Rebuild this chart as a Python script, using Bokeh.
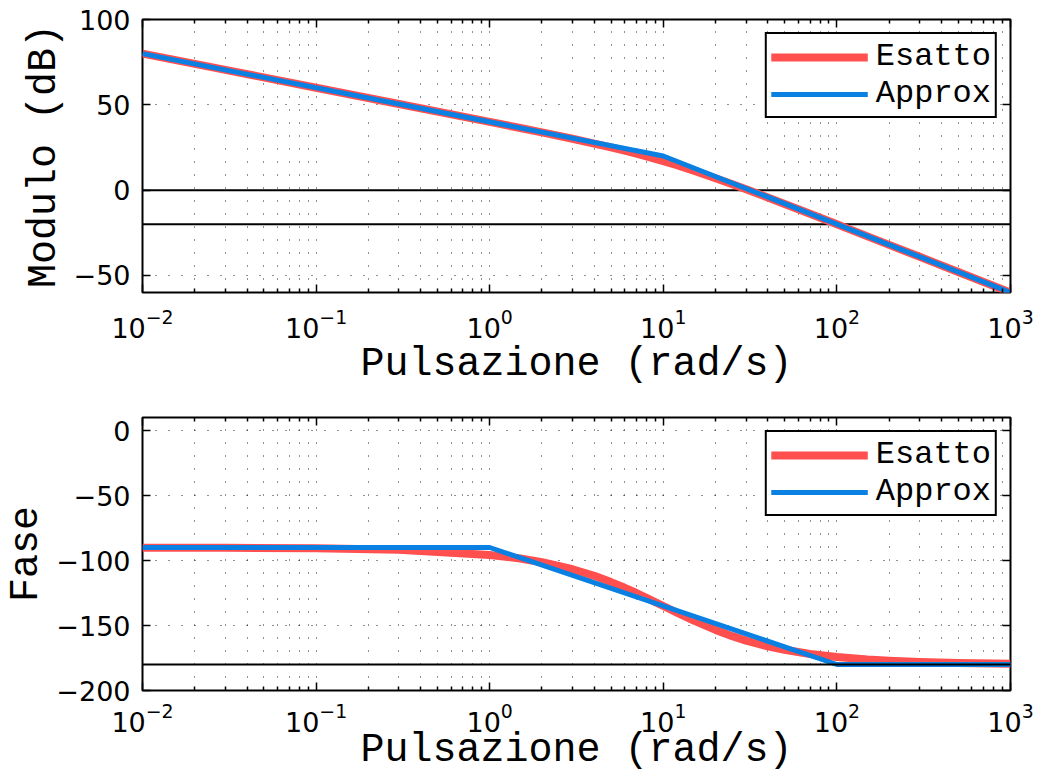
from bokeh.plotting import figure
from bokeh.models import (LogAxis, LinearAxis, FixedTicker, CustomJSTickFormatter,
                          Legend, LegendItem, Span, Range1d)
from bokeh.layouts import column
from bokeh.embed import file_html
from bokeh.resources import INLINE

# ---------------- data ----------------
w_exact = [0.01, 0.03, 0.1, 0.3, 1, 1.5, 2, 3, 4, 5, 6, 7, 8, 10, 12, 15, 20, 25,
           30, 40, 50, 70, 100, 150, 200, 300, 500, 1000]
mag_exact = [80.0, 70.5, 60.0, 50.5, 40.0, 36.4, 33.8, 30.1, 27.3, 25.1, 23.1, 21.4,
             19.8, 17.0, 14.6, 11.4, 7.0, 3.4, 0.5, -4.3, -8.1, -13.9, -20.0, -27.1,
             -32.1, -39.1, -48.0, -60.0]
phase_exact = [-90.1, -90.2, -90.6, -91.7, -95.7, -98.5, -101.3, -106.7, -111.8,
               -116.6, -121.0, -125.0, -128.7, -135.0, -140.2, -146.3, -153.4, -158.2,
               -161.6, -166.0, -168.7, -171.9, -174.3, -176.2, -177.1, -178.1, -178.9,
               -179.4]

w_mag_approx = [0.01, 10, 1000]
mag_approx = [80, 20, -60]

w_ph_approx = [0.01, 1, 100, 1000]
ph_approx = [-90, -90, -180, -180]

x_major = [1e-2, 1e-1, 1e0, 1e1, 1e2, 1e3]
x_minor = [m * d for d in x_major[:-1] for m in range(2, 10)]
mag_ticks = [-50, 0, 50, 100]
ph_ticks = [-200, -150, -100, -50, 0]
mag_range = (-60, 100)
ph_range = (-200, 10)
mag_ref_lines = [0, -20]
ph_ref_lines = [-180]

legend_labels = ["Esatto", "Approx"]
x_label = "Pulsazione (rad/s)"
mag_label = "Modulo (dB)"
ph_label = "Fase"

RED = "#ff4f4f"
BLUE = "#0a80e2"
MONO = "Liberation Mono"
SANS = "DejaVu Sans"

WIDTH = 1037
FRAME_H = 273


def make_fig(height, top, yrange, yticks, ylabel, xs_e, ys_e, xs_a, ys_a, refs,
             tick_standoff, xlab_standoff, ref_level):
    bottom = height - top - FRAME_H
    p = figure(width=WIDTH, height=height, x_axis_type="log",
               x_range=Range1d(1e-2, 1e3), y_range=Range1d(*yrange),
               output_backend="svg", toolbar_location=None,
               min_border_left=142, min_border_right=27,
               min_border_top=top, min_border_bottom=bottom)
    p.background_fill_color = "white"
    p.border_fill_color = "white"
    p.outline_line_color = "black"
    p.outline_line_width = 2

    xt = FixedTicker(ticks=x_major, minor_ticks=x_minor)
    yt = FixedTicker(ticks=yticks)

    bottom_ax = p.below[0]
    left_ax = p.left[0]
    blank = CustomJSTickFormatter(code="return '';")
    top_ax = LogAxis(ticker=xt, formatter=blank)
    right_ax = LinearAxis(ticker=yt, formatter=blank)
    p.add_layout(top_ax, "above")
    p.add_layout(right_ax, "right")

    bottom_ax.ticker = xt
    left_ax.ticker = yt
    p.xgrid.ticker = xt
    p.ygrid.ticker = yt

    for ax in [top_ax, right_ax]:
        ax.major_label_text_font_size = "2px"
        ax.major_label_standoff = 0
        ax.axis_label = None
        ax.axis_label_standoff = 0

    left_ax.formatter = CustomJSTickFormatter(
        code="return tick < 0 ? '\\u2212' + (-tick) : String(tick);")

    for ax in [bottom_ax, left_ax, top_ax, right_ax]:
        ax.axis_line_color = None
        ax.major_tick_in = 8
        ax.major_tick_out = 0
        ax.minor_tick_in = 4
        ax.minor_tick_out = 0
        ax.major_tick_line_color = "black"
        ax.major_tick_line_width = 1.5
        ax.minor_tick_line_color = "black"
        ax.minor_tick_line_width = 1.5
        ax.major_label_text_font = SANS
        ax.major_label_text_color = "black"
    for ax in [left_ax, right_ax]:
        ax.minor_tick_line_color = None

    for ax in [bottom_ax, left_ax]:
        ax.major_label_text_font_size = "27px"
        ax.axis_label_text_font = MONO
        ax.axis_label_text_font_size = "40px"
        ax.axis_label_text_font_style = "normal"
        ax.axis_label_text_color = "black"

    bottom_ax.major_label_standoff = tick_standoff
    left_ax.major_label_standoff = 12
    bottom_ax.axis_label = x_label
    bottom_ax.axis_label_standoff = xlab_standoff
    left_ax.axis_label = ylabel
    left_ax.axis_label_standoff = 4

    for g in [p.xgrid, p.ygrid]:
        g.grid_line_color = "#222222"
        g.grid_line_dash = "1 12"
        g.grid_line_width = 1
    p.xgrid.minor_grid_line_color = "#222222"
    p.xgrid.minor_grid_line_dash = "1 12"
    p.xgrid.minor_grid_line_width = 1

    r_e = p.line(xs_e, ys_e, line_width=8, line_color=RED, line_join="round")
    r_a = p.line(xs_a, ys_a, line_width=5, line_color=BLUE, line_join="round")

    for loc in refs:
        p.add_layout(Span(location=loc, dimension="width", line_color="black",
                          line_width=2, level=ref_level))

    leg = Legend(items=[LegendItem(label=legend_labels[0], renderers=[r_e]),
                        LegendItem(label=legend_labels[1], renderers=[r_a])],
                 location="top_right")
    leg.margin = 13
    leg.padding = 4
    leg.spacing = 0
    leg.glyph_width = 97
    leg.glyph_height = 28
    leg.label_standoff = 8
    leg.label_height = 28
    leg.label_text_font = MONO
    leg.label_text_font_size = "32px"
    leg.label_text_color = "black"
    leg.border_line_color = "black"
    leg.border_line_width = 2
    leg.border_line_alpha = 1
    leg.background_fill_color = "white"
    leg.background_fill_alpha = 1
    p.add_layout(leg, "center")
    return p


p1 = make_fig(398, 19, mag_range, mag_ticks, mag_label,
              w_exact, mag_exact, w_mag_approx, mag_approx, mag_ref_lines,
              16, 1, "underlay")
p2 = make_fig(379, 19, ph_range, ph_ticks, ph_label,
              w_exact, phase_exact, w_ph_approx, ph_approx, ph_ref_lines,
              12, -7, "annotation")

layout = column(p1, p2, spacing=0)
open("out.html", "w", encoding="utf-8").write(file_html(layout, INLINE))
